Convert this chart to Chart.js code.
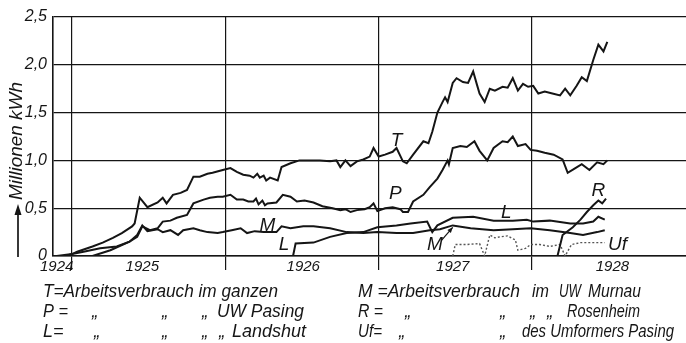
<!DOCTYPE html>
<html><head><meta charset="utf-8">
<script src="https://cdn.jsdelivr.net/npm/chart.js@4.4.1/dist/chart.umd.min.js"></script>
<style>html,body{margin:0;padding:0;background:#fff;}canvas{display:block;}</style>
</head><body>
<canvas id="c" width="686" height="343"></canvas>
<script>
// x = months since 1 Jan 1924, y = Millionen kWh
const seriesT = [[4.8,0],[6.0,0.02],[6.4,0.045],[7.6,0.10],[8.4,0.14],[9.2,0.19],[9.9,0.24],[10.7,0.31],[10.9,0.34],[11.3,0.61],[11.9,0.51],[12.7,0.56],[13.1,0.61],[13.4,0.55],[13.9,0.64],[14.5,0.66],[15.0,0.69],[15.5,0.83],[16.0,0.83],[16.6,0.86],[17.0,0.87],[17.8,0.90],[18.4,0.92],[18.9,0.88],[19.4,0.85],[19.9,0.84],[20.2,0.82],[20.5,0.86],[20.7,0.82],[21.0,0.84],[21.2,0.79],[21.5,0.82],[22.1,0.79],[22.4,0.93],[23.1,0.97],[23.8,1.0],[25.4,1.0],[26.2,0.99],[26.7,1.0],[27.0,0.93],[27.4,1.0],[27.8,0.94],[28.3,0.99],[28.8,1.01],[29.3,1.04],[29.6,1.13],[30.0,1.04],[30.5,1.06],[31.1,1.09],[31.4,1.13],[31.9,0.99],[32.2,0.97],[32.7,1.06],[33.5,1.20],[33.9,1.18],[34.2,1.30],[34.6,1.50],[35.0,1.61],[35.2,1.66],[35.4,1.61],[35.8,1.81],[36.1,1.86],[36.6,1.82],[37.0,1.81],[37.4,1.93],[37.7,1.79],[37.9,1.70],[38.3,1.61],[38.7,1.75],[39.1,1.73],[39.7,1.77],[40.1,1.76],[40.5,1.86],[40.9,1.73],[41.3,1.80],[41.7,1.77],[42.1,1.78],[42.5,1.70],[43.0,1.72],[43.6,1.70],[44.2,1.68],[44.6,1.75],[45.0,1.68],[45.5,1.78],[45.9,1.87],[46.3,1.83],[46.8,2.05],[47.2,2.21],[47.6,2.14],[47.9,2.24]];
const seriesP = [[7.6,0],[9.0,0.06],[10.5,0.15],[11.1,0.20],[11.5,0.31],[12.1,0.27],[12.7,0.29],[13.1,0.36],[13.7,0.37],[14.2,0.40],[15.0,0.43],[15.5,0.55],[16.3,0.59],[16.8,0.61],[17.4,0.62],[17.8,0.62],[18.4,0.64],[18.9,0.59],[19.4,0.59],[19.8,0.57],[20.2,0.57],[20.4,0.60],[20.6,0.54],[20.9,0.58],[21.1,0.53],[21.3,0.55],[22.0,0.56],[22.5,0.64],[23.1,0.62],[23.6,0.57],[24.2,0.58],[24.9,0.56],[25.6,0.52],[26.4,0.50],[27.0,0.48],[27.4,0.49],[27.8,0.46],[28.3,0.48],[28.9,0.49],[29.3,0.51],[29.6,0.55],[29.9,0.47],[30.5,0.50],[31.1,0.51],[31.7,0.49],[31.9,0.46],[32.3,0.46],[32.7,0.57],[33.5,0.64],[34.0,0.72],[34.6,0.81],[35.0,0.90],[35.4,1.0],[35.5,0.96],[35.8,1.13],[36.4,1.15],[36.9,1.14],[37.5,1.20],[37.9,1.10],[38.5,1.00],[39.0,1.13],[39.7,1.20],[40.1,1.19],[40.5,1.25],[40.9,1.15],[41.5,1.17],[41.9,1.11],[42.4,1.10],[43.0,1.08],[43.7,1.06],[44.4,1.01],[44.8,0.87],[45.4,0.92],[45.9,0.96],[46.5,0.90],[47.1,0.98],[47.6,0.96],[47.9,1.00]];
const seriesM = [[5.5,0],[6.0,0.02],[6.9,0.045],[8.2,0.08],[9.5,0.10],[10.5,0.15],[11.1,0.22],[11.5,0.32],[11.9,0.26],[12.7,0.28],[13.1,0.25],[13.7,0.27],[14.3,0.22],[14.7,0.27],[15.5,0.29],[16.0,0.27],[16.6,0.25],[17.4,0.24],[17.8,0.25],[18.5,0.27],[19.2,0.29],[19.7,0.24],[20.3,0.26],[21.0,0.25],[22.0,0.25],[22.4,0.31],[23.1,0.29],[24.1,0.31],[24.9,0.31],[26.2,0.29],[27.5,0.25],[28.8,0.24],[29.9,0.25],[31.4,0.24],[32.7,0.24],[34.0,0.27],[34.8,0.28],[35.8,0.32],[37.2,0.29],[39.0,0.27],[40.5,0.28],[41.9,0.29],[43.4,0.27],[45.0,0.24],[46.0,0.22],[47.1,0.25],[47.7,0.27]];
const seriesL = [[23.3,0],[23.5,0.13],[24.9,0.14],[26.2,0.20],[27.5,0.24],[28.8,0.25],[29.9,0.30],[31.4,0.32],[32.5,0.34],[33.8,0.36],[34.2,0.25],[34.6,0.32],[35.8,0.40],[37.4,0.41],[39.0,0.37],[40.5,0.37],[41.6,0.38],[42.1,0.36],[43.4,0.37],[45.0,0.34],[46.0,0.34],[46.8,0.36],[47.2,0.41],[47.7,0.38]];
const seriesR = [[44.0,0],[44.4,0.22],[45.2,0.30],[45.8,0.38],[46.3,0.46],[46.8,0.53],[47.2,0.58],[47.5,0.55],[47.8,0.60]];
const seriesUf = [[35.8,0],[36.0,0.12],[36.9,0.12],[37.9,0.13],[38.3,0],[38.7,0.22],[39.1,0.19],[39.5,0.20],[40.1,0.21],[40.5,0.18],[40.7,0.17],[40.9,0.06],[41.5,0.08],[41.9,0.12],[42.6,0.12],[43.4,0.10],[44.2,0.12],[44.6,0],[45.1,0.12],[45.8,0.14],[46.8,0.14],[47.7,0.14]];

const gridMonths = [6, 18, 30, 42];
const yearLabels = ['1924', '1925', '1926', '1927', '1928'];
const yearLabelMonths = [4.8, 11.5, 24.1, 35.8, 48.3];
const yTickLabels = ['0', '0,5', '1,0', '1,5', '2,0', '2,5'];
const yTitle = 'Millionen kWh';

const annotTexts = ['T', 'P', 'M', 'L', 'L', 'M', 'R', 'Uf'];
const annotMonths = [31.4, 31.3, 21.3, 22.6, 40.0, 34.4, 47.2, 48.7];
const annotValues = [1.21, 0.65, 0.32, 0.115, 0.45, 0.115, 0.68, 0.115];

const legendTexts = [
  'T=Arbeitsverbrauch im ganzen', 'M =Arbeitsverbrauch', 'im', 'UW', 'Murnau',
  'P =', '\u201E', '\u201E', '\u201E', 'UW Pasing', 'R =', '\u201E', '\u201E', '\u201E', '\u201E', 'Rosenheim',
  'L=', '\u201E', '\u201E', '\u201E', '\u201E', 'Landshut', 'Uf=', '\u201E', '\u201E', 'des Umformers Pasing'
];
// layout of legend pieces (x, row, max width)
const legendLayout = [
  [43,0,235],[358,0,162],[532,0,17],[559,0,22],[588,0,53],
  [43,1,25],[92,1,0],[162,1,0],[202,1,0],[217,1,87],[358,1,25],[405,1,0],[500,1,0],[530,1,0],[547,1,0],[567,1,73],
  [43,2,22],[94,2,0],[162,2,0],[202,2,0],[219,2,0],[232,2,81],[358,2,24],[399,2,0],[500,2,0],[522,2,152]
];
const legendBaselines = [297, 317, 337];

const INK = '#151515';
const FONT = '"Liberation Sans", Arial, sans-serif';

const extras = {
  id: 'extras',
  afterDraw(chart) {
    const ctx = chart.ctx;
    const xs = chart.scales.x, ys = chart.scales.y;
    ctx.save();
    ctx.fillStyle = INK;
    ctx.strokeStyle = INK;
    // y-axis title, rotated
    ctx.save();
    ctx.translate(17, 141);
    ctx.rotate(-Math.PI / 2);
    ctx.font = 'italic 19px ' + FONT;
    ctx.textAlign = 'center';
    ctx.textBaseline = 'middle';
    ctx.fillText(yTitle, 0, 0, 118);
    ctx.restore();
    // arrow under the title
    ctx.lineWidth = 1.7;
    ctx.beginPath(); ctx.moveTo(18, 257); ctx.lineTo(18, 212); ctx.stroke();
    ctx.beginPath(); ctx.moveTo(18, 204); ctx.lineTo(14.5, 215); ctx.lineTo(21.5, 215); ctx.closePath(); ctx.fill();
    // curve labels
    ctx.font = 'italic 19px ' + FONT;
    ctx.textAlign = 'center';
    ctx.textBaseline = 'middle';
    annotTexts.forEach((t, i) => {
      ctx.fillText(t, xs.getPixelForValue(annotMonths[i]), ys.getPixelForValue(annotValues[i]));
    });
    // arrow from second M label to the M curve
    const ax0 = xs.getPixelForValue(34.9), ay0 = ys.getPixelForValue(0.16);
    const ax1 = xs.getPixelForValue(35.8), ay1 = ys.getPixelForValue(0.30);
    ctx.lineWidth = 1.2;
    ctx.beginPath(); ctx.moveTo(ax0, ay0); ctx.lineTo(ax1, ay1); ctx.stroke();
    const ang = Math.atan2(ay1 - ay0, ax1 - ax0);
    ctx.beginPath();
    ctx.moveTo(ax1, ay1);
    ctx.lineTo(ax1 - 6 * Math.cos(ang - 0.4), ay1 - 6 * Math.sin(ang - 0.4));
    ctx.lineTo(ax1 - 6 * Math.cos(ang + 0.4), ay1 - 6 * Math.sin(ang + 0.4));
    ctx.closePath(); ctx.fill();
    // legend text below the chart
    ctx.font = 'italic 18px ' + FONT;
    ctx.textAlign = 'left';
    ctx.textBaseline = 'alphabetic';
    legendTexts.forEach((t, i) => {
      const [x, row, w] = legendLayout[i];
      if (w > 0) ctx.fillText(t, x, legendBaselines[row], w);
      else ctx.fillText(t, x, legendBaselines[row]);
    });
    ctx.restore();
  }
};

const toPts = s => s.map(([x, y]) => ({ x, y }));
const lineDs = (label, s, extra) => Object.assign({
  label, data: toPts(s), borderColor: INK, borderWidth: 2, pointRadius: 0, tension: 0, fill: false
}, extra || {});

new Chart(document.getElementById('c'), {
  type: 'line',
  data: {
    datasets: [
      lineDs('T', seriesT),
      lineDs('P', seriesP),
      lineDs('M', seriesM),
      lineDs('L', seriesL),
      lineDs('R', seriesR),
      lineDs('Uf', seriesUf, { borderDash: [2, 2], borderWidth: 1.4, borderColor: '#555' })
    ]
  },
  options: {
    responsive: false,
    animation: false,
    devicePixelRatio: 1,
    layout: { padding: { top: 17, right: 0, bottom: 0, left: 0 } },
    plugins: { legend: { display: false }, tooltip: { enabled: false } },
    scales: {
      x: {
        type: 'linear', position: 'bottom', min: 4.51, max: 54.06,
        grid: { color: INK, lineWidth: 1.2, drawTicks: true, tickLength: 14, tickColor: INK },
        border: { display: true, color: INK, width: 1.6 },
        ticks: { display: false },
        afterBuildTicks: s => { s.ticks = gridMonths.map(v => ({ value: v })); },
        afterFit: s => { s.height = 0; }
      },
      x2: {
        type: 'linear', position: 'bottom', min: 4.51, max: 54.06,
        grid: { display: false, drawTicks: false },
        border: { display: false },
        ticks: {
          autoSkip: false, maxRotation: 0, minRotation: 0, padding: 2, color: INK,
          font: { family: FONT, size: 15, style: 'italic' },
          callback: (v, i) => yearLabels[i]
        },
        afterBuildTicks: s => { s.ticks = yearLabelMonths.map(v => ({ value: v })); },
        afterFit: s => { s.height = 87; }
      },
      y: {
        type: 'linear', min: 0, max: 2.5,
        grid: { color: INK, lineWidth: 1.2, drawTicks: false },
        border: { display: true, color: INK, width: 1.6 },
        ticks: {
          stepSize: 0.5, padding: 6, color: INK,
          font: { family: FONT, size: 16, style: 'italic' },
          callback: (v, i) => yTickLabels[i]
        },
        afterFit: s => { s.width = 53; }
      }
    }
  },
  plugins: [extras]
});
</script>
</body></html>
